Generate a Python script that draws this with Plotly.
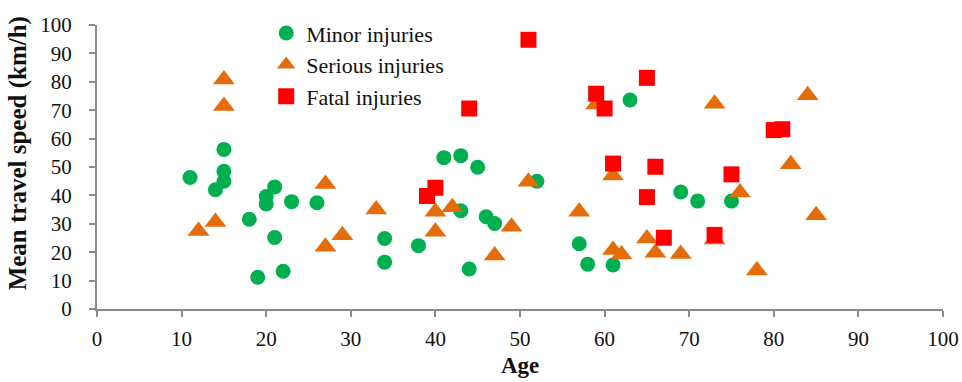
import plotly.graph_objects as go

# Age and mean travel speed (km/h) per injury severity
minor_age = [11, 14, 15, 15, 15, 18, 19, 20, 20, 21, 21, 22, 23, 26, 34, 34,
             38, 41, 43, 43, 44, 45, 46, 47, 52, 57, 58, 61, 63, 69, 71, 75]
minor_speed = [46.3, 42.0, 56.2, 48.5, 45.0, 31.6, 11.2, 39.6, 37.0, 43.0, 25.2, 13.3,
               37.8, 37.4, 24.8, 16.5, 22.3, 53.3, 54.0, 34.6, 14.1, 49.9, 32.5, 30.1,
               45.0, 23.0, 15.8, 15.5, 73.6, 41.2, 38.0, 38.0]

serious_age = [12, 14, 15, 15, 27, 27, 29, 33, 40, 40, 42, 47, 49, 51, 57, 59,
               61, 61, 62, 65, 66, 69, 73, 73, 76, 78, 82, 84, 85]
serious_speed = [27.5, 30.6, 80.8, 71.5, 44.0, 21.9, 26.0, 35.0, 34.2, 27.2, 35.8, 18.8,
                 29.0, 44.8, 34.2, 72.0, 47.0, 20.8, 19.2, 24.8, 19.8, 19.4, 72.3,
                 24.5, 41.0, 13.6, 51.0, 75.3, 33.0]

fatal_age = [39, 40, 44, 51, 59, 60, 61, 65, 65, 66, 67, 73, 75, 80, 81]
fatal_speed = [39.8, 42.7, 70.6, 94.8, 75.8, 70.6, 51.2, 81.4, 39.4, 50.1, 25.1,
               26.1, 47.4, 63.0, 63.3]

x_ticks = [0, 10, 20, 30, 40, 50, 60, 70, 80, 90, 100]
y_ticks = [0, 10, 20, 30, 40, 50, 60, 70, 80, 90, 100]

FONT = "Liberation Serif"
AXIS_GREY = "#8a8a8a"
TEXT = "#111111"

fig = go.Figure()
fig.add_trace(go.Scatter(
    x=minor_age, y=minor_speed, mode="markers", name="Minor injuries",
    legendgroup="minor",
    marker=dict(symbol="circle", size=15, color="#00B050"),
))
fig.add_trace(go.Scatter(
    x=serious_age, y=serious_speed, mode="markers", name="Serious injuries",
    legendgroup="serious",
    marker=dict(symbol="triangle-up", size=19, color="#E46C0A"),
))
fig.add_trace(go.Scatter(
    x=fatal_age, y=fatal_speed, mode="markers", name="Fatal injuries",
    legendgroup="fatal",
    marker=dict(symbol="square", size=16, color="#FF0000"),
))

axis_common = dict(
    showgrid=False, zeroline=False, showline=True, linecolor=AXIS_GREY, linewidth=2,
    ticks="outside", ticklen=6, tickwidth=2, tickcolor=AXIS_GREY,
    tickfont=dict(family=FONT, size=21, color=TEXT),
    automargin=False,
)

fig.update_layout(
    width=962, height=382,
    margin=dict(l=97, r=19, t=22, b=73),
    paper_bgcolor="white", plot_bgcolor="white",
    showlegend=True,
    legend=dict(
        x=0.2, y=1.045, xanchor="left", yanchor="top",
        font=dict(family=FONT, size=22, color=TEXT),
        traceorder="grouped", tracegroupgap=0,
        bgcolor="rgba(0,0,0,0)", itemwidth=30,
    ),
    xaxis=dict(range=[0, 100], tickvals=x_ticks, ticklabelstandoff=4, **axis_common),
    yaxis=dict(range=[0, 100], tickvals=y_ticks, ticklabelstandoff=13, **axis_common),
    annotations=[
        dict(text="<b>Mean travel speed (km/h)</b>", textangle=-90,
             xref="paper", yref="paper", x=-0.0934, y=0.548,
             xanchor="center", yanchor="middle", showarrow=False,
             font=dict(family=FONT, size=25, color=TEXT)),
        dict(text="<b>Age</b>",
             xref="paper", yref="paper", x=0.5, y=-0.198,
             xanchor="center", yanchor="middle", showarrow=False,
             font=dict(family=FONT, size=23, color=TEXT)),
    ],
)

fig.write_html("out.html")
